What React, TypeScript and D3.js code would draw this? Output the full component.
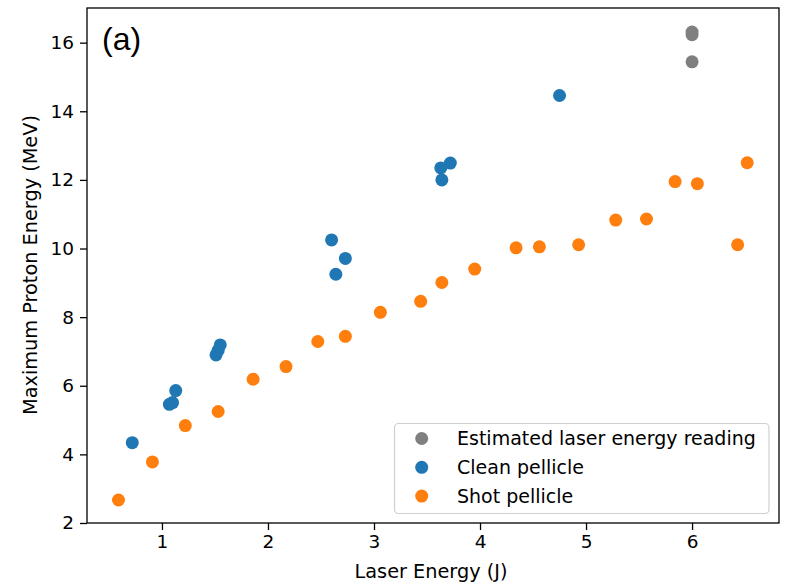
import React, { useEffect, useRef } from "react";
import * as d3 from "d3";

const W = 790;
const H = 584;
const margin = { top: 8, right: 11, bottom: 61, left: 87 };

// Estimated laser energy reading (grey)
const estimatedX = [6.0, 6.0, 6.0];
const estimatedY = [16.31, 16.23, 15.44];

// Clean pellicle (blue)
const cleanX = [0.72, 1.07, 1.1, 1.13, 1.51, 1.53, 1.55, 2.6, 2.64, 2.73, 3.63, 3.64, 3.72, 4.75];
const cleanY = [4.34, 5.46, 5.51, 5.86, 6.9, 7.03, 7.19, 10.25, 9.25, 9.71, 12.35, 12.0, 12.49, 14.46];

// Shot pellicle (orange)
const shotX = [
  0.59, 0.91, 1.22, 1.53, 1.86, 2.17, 2.47, 2.73, 3.06, 3.44, 3.64, 3.95, 4.34, 4.56, 4.93, 5.28, 5.57, 5.84,
  6.05, 6.43, 6.52,
];
const shotY = [
  2.67, 3.78, 4.84, 5.25, 6.19, 6.56, 7.29, 7.44, 8.14, 8.46, 9.01, 9.4, 10.02, 10.05, 10.11, 10.83, 10.86,
  11.95, 11.89, 10.11, 12.5,
];

const xTicks = [1, 2, 3, 4, 5, 6];
const yTicks = [2, 4, 6, 8, 10, 12, 14, 16];

const series = [
  { name: "Estimated laser energy reading", color: "#7f7f7f", xs: estimatedX, ys: estimatedY },
  { name: "Clean pellicle", color: "#1f77b4", xs: cleanX, ys: cleanY },
  { name: "Shot pellicle", color: "#ff7f0e", xs: shotX, ys: shotY },
];

const FONT = "DejaVu Sans, sans-serif";

export default function App() {
  const ref = useRef<SVGSVGElement>(null);

  useEffect(() => {
    document.body.style.margin = "0";
    const svg = d3.select(ref.current);
    svg.selectAll("*").remove();

    const x = d3
      .scaleLinear()
      .domain([0.293, 6.82])
      .range([margin.left, W - margin.right]);
    const y = d3
      .scaleLinear()
      .domain([2, 17.01])
      .range([H - margin.bottom, margin.top]);

    // points
    series.forEach((s) => {
      svg
        .append("g")
        .selectAll("circle")
        .data(s.xs.map((v, i) => [v, s.ys[i]]))
        .join("circle")
        .attr("cx", (d) => x(d[0]))
        .attr("cy", (d) => y(d[1]))
        .attr("r", 6.5)
        .attr("fill", s.color);
    });

    // axes
    const xAxis = svg
      .append("g")
      .attr("transform", `translate(0,${H - margin.bottom})`)
      .call(d3.axisBottom(x).tickValues(xTicks).tickSize(7).tickPadding(5).tickFormat(d3.format("d")));
    const yAxis = svg
      .append("g")
      .attr("transform", `translate(${margin.left},0)`)
      .call(d3.axisLeft(y).tickValues(yTicks).tickSize(7).tickPadding(6).tickFormat(d3.format("d")));

    [xAxis, yAxis].forEach((a) => {
      a.select(".domain").remove();
      a.selectAll(".tick line").attr("stroke", "#000").attr("stroke-width", 1.3);
      a.selectAll(".tick text").attr("fill", "#000").style("font-family", FONT).style("font-size", "18.5px");
    });

    // frame
    svg
      .append("rect")
      .attr("x", margin.left)
      .attr("y", margin.top)
      .attr("width", W - margin.left - margin.right)
      .attr("height", H - margin.top - margin.bottom)
      .attr("fill", "none")
      .attr("stroke", "#000")
      .attr("stroke-width", 1.3);

    // axis labels
    svg
      .append("text")
      .attr("x", 431)
      .attr("y", 578)
      .attr("text-anchor", "middle")
      .style("font-family", FONT)
      .style("font-size", "19.3px")
      .text("Laser Energy (J)");

    svg
      .append("text")
      .attr("transform", `translate(37,265) rotate(-90)`)
      .attr("text-anchor", "middle")
      .style("font-family", FONT)
      .style("font-size", "19.3px")
      .text("Maximum Proton Energy (MeV)");

    // panel label
    svg
      .append("text")
      .attr("x", 102)
      .attr("y", 50)
      .style("font-family", "Liberation Sans, Arial, sans-serif")
      .style("font-size", "32px")
      .text("(a)");

    // legend
    const lg = svg.append("g");
    lg.append("rect")
      .attr("x", 394.5)
      .attr("y", 423.5)
      .attr("width", 374.5)
      .attr("height", 90)
      .attr("rx", 4)
      .attr("fill", "#fff")
      .attr("fill-opacity", 0.8)
      .attr("stroke", "#d0d0d0")
      .attr("stroke-width", 1.2);
    series.forEach((s, i) => {
      const cy = 438.5 + i * 28.8;
      lg.append("circle").attr("cx", 421.7).attr("cy", cy).attr("r", 6.5).attr("fill", s.color);
      lg.append("text")
        .attr("x", 457)
        .attr("y", cy)
        .attr("dy", "0.36em")
        .style("font-family", FONT)
        .style("font-size", "19px")
        .text(s.name);
    });
  }, []);

  return <svg ref={ref} width={W} height={H} style={{ display: "block", background: "#fff" }} />;
}
